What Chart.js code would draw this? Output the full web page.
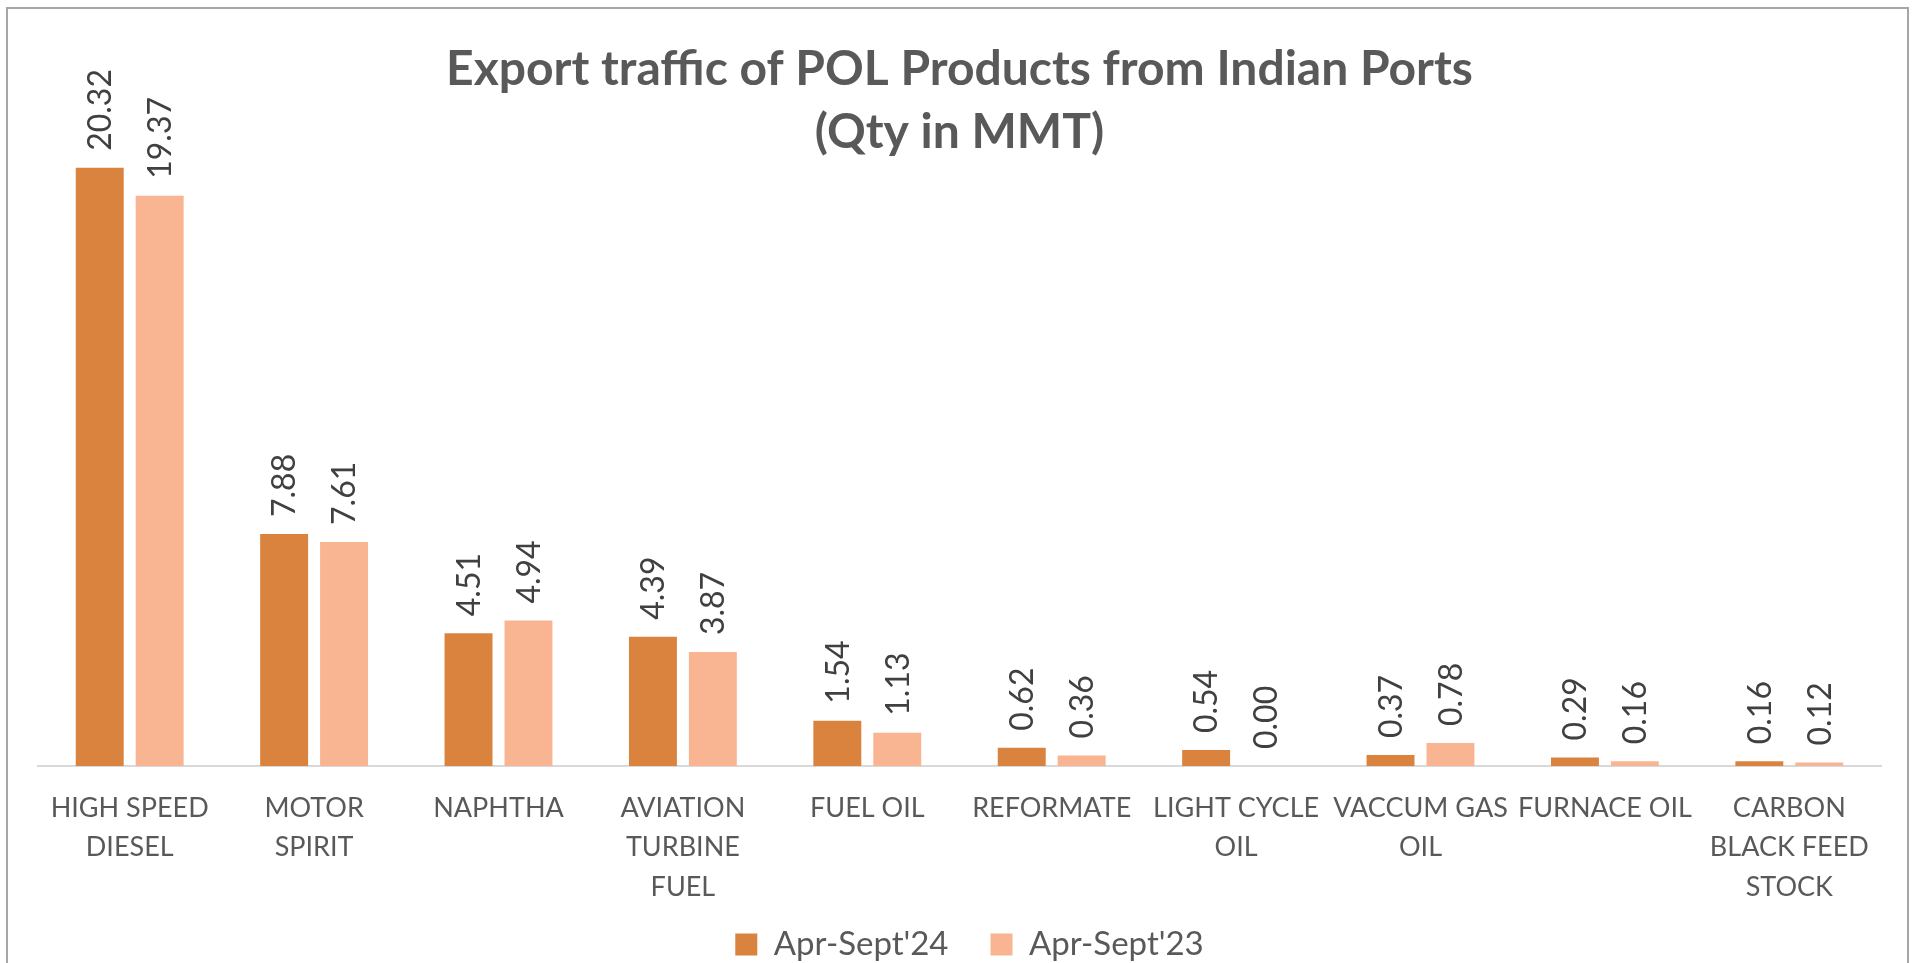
<!DOCTYPE html>
<html>
<head>
<meta charset="utf-8">
<script src="https://cdn.jsdelivr.net/npm/chart.js@4.4.0/dist/chart.umd.min.js"></script>
<style>
  html, body { margin: 0; padding: 0; background: #fff; overflow: hidden; }
  #wrap { position: absolute; left: 0; top: 0; width: 1923px; height: 963px; }
  #frame { position: absolute; left: 6px; top: 7px; width: 1903px; height: 970px; border: 2px solid #a6a6a6; box-sizing: border-box; pointer-events: none; }
</style>
</head>
<body>
<div id="wrap"><canvas id="c"></canvas></div>
<div id="frame"></div>
<script>
// ---- data ----
const categories = [
  ["HIGH SPEED", "DIESEL"],
  ["MOTOR", "SPIRIT"],
  ["NAPHTHA"],
  ["AVIATION", "TURBINE", "FUEL"],
  ["FUEL OIL"],
  ["REFORMATE"],
  ["LIGHT CYCLE", "OIL"],
  ["VACCUM GAS", "OIL"],
  ["FURNACE OIL"],
  ["CARBON", "BLACK FEED", "STOCK"]
];
const seriesNames = ["Apr-Sept'24", "Apr-Sept'23"];
const apr24 = [20.32, 7.88, 4.51, 4.39, 1.54, 0.62, 0.54, 0.37, 0.29, 0.16];
const apr23 = [19.37, 7.61, 4.94, 3.87, 1.13, 0.36, 0.00, 0.78, 0.16, 0.12];
const titleLines = ["Export traffic of POL Products from Indian Ports", "(Qty in MMT)"];

const FONT = "Lato, 'Open Sans', 'Liberation Sans', sans-serif";

const valueLabels = {
  id: 'valueLabels',
  afterDatasetsDraw(chart) {
    const ctx = chart.ctx;
    ctx.save();
    ctx.font = "32px " + FONT;
    ctx.fillStyle = "#404040";
    ctx.textAlign = "left";
    ctx.textBaseline = "middle";
    chart.data.datasets.forEach((ds, di) => {
      const meta = chart.getDatasetMeta(di);
      meta.data.forEach((bar, i) => {
        const v = ds.data[i];
        ctx.save();
        ctx.translate(bar.x, bar.y - 17);
        ctx.rotate(-Math.PI / 2);
        ctx.fillText(v.toFixed(2), 0, 1);
        ctx.restore();
      });
    });
    ctx.restore();
  }
};

// nudge the legend block slightly right, as in the original
const legendShift = {
  id: 'legendShift',
  afterLayout(chart) {
    if (chart.legend) { chart.legend.left += 10; chart.legend.right += 10; }
  }
};

new Chart(document.getElementById('c'), {
  type: 'bar',
  data: {
    labels: categories,
    datasets: [
      { label: seriesNames[0], data: apr24, backgroundColor: '#DA833F', borderWidth: 0,
        categoryPercentage: 0.65, barPercentage: 0.8 },
      { label: seriesNames[1], data: apr23, backgroundColor: '#F9B592', borderWidth: 0,
        categoryPercentage: 0.65, barPercentage: 0.8 }
    ]
  },
  options: {
    responsive: true,
    maintainAspectRatio: false,
    animation: false,
    layout: { padding: { left: 37.5, right: 41.5, top: 0, bottom: -8 } },
    plugins: {
      title: {
        display: true,
        text: titleLines,
        color: '#595959',
        font: { family: FONT, size: 48, weight: 'bold', lineHeight: 1.3125 },
        padding: { top: 38, bottom: 0 }
      },
      legend: {
        display: true,
        position: 'bottom',
        labels: {
          color: '#595959',
          font: { family: FONT, size: 33 },
          boxWidth: 22,
          boxHeight: 22,
          padding: 42
        }
      },
      tooltip: { enabled: false }
    },
    scales: {
      x: {
        grid: { display: true, drawOnChartArea: false, drawTicks: false },
        border: { display: true, color: '#D9D9D9', width: 2 },
        ticks: {
          color: '#595959',
          font: { family: FONT, size: 27, lineHeight: 1.45 },
          padding: 23,
          autoSkip: false,
          maxRotation: 0,
          minRotation: 0
        },
        afterFit(scale) {
          scale.height = 120;
          scale._computeLabelArea = () => undefined;
        }
      },
      y: {
        display: false,
        min: 0,
        max: 20.45
      }
    }
  },
  plugins: [valueLabels, legendShift]
});
</script>
</body>
</html>
